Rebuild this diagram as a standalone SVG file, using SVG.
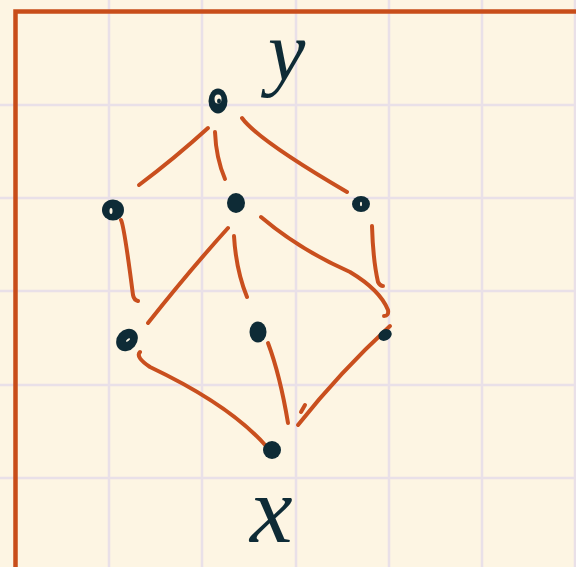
<svg xmlns="http://www.w3.org/2000/svg" width="576" height="567" viewBox="0 0 576 567">
<defs>
<style>
.grid{stroke:#e9e0e8;stroke-width:2.5}
.border{stroke:#c84d1a;stroke-width:4.5;fill:none}
.edge{stroke:#c94f1e;stroke-width:4;fill:none;stroke-linecap:round;stroke-linejoin:round}
.dot{fill:#0e2b36}
.hl{fill:#fdf5e3}
.lbl{font-family:"Liberation Serif",serif;font-style:italic;fill:#0e2b36}
</style>
</defs>
<rect width="576" height="567" fill="#fdf5e3"/>
<g id="grid">
<line class="grid" x1="109" y1="0" x2="109" y2="567"/>
<line class="grid" x1="202" y1="0" x2="202" y2="567"/>
<line class="grid" x1="296" y1="0" x2="296" y2="567"/>
<line class="grid" x1="389" y1="0" x2="389" y2="567"/>
<line class="grid" x1="482" y1="0" x2="482" y2="567"/>
<line class="grid" x1="575" y1="0" x2="575" y2="567"/>
<line class="grid" x1="0" y1="105" x2="576" y2="105"/>
<line class="grid" x1="0" y1="198" x2="576" y2="198"/>
<line class="grid" x1="0" y1="291" x2="576" y2="291"/>
<line class="grid" x1="0" y1="385" x2="576" y2="385"/>
<line class="grid" x1="0" y1="478" x2="576" y2="478"/>
</g>
<path class="border" d="M15.5 567 V11.5 H576"/>
<g id="connectors">
<path class="edge" d="M208 128 Q175 158 139 185"/>
<path class="edge" d="M215 132 Q216 158 225 179"/>
<path class="edge" d="M242 118 Q258 140 347 192"/>
<path class="edge" d="M121 220 Q124 225 133 295 Q134 300 138 301"/>
<path class="edge" d="M228 228 Q190 270 148 323"/>
<path class="edge" d="M234 236 Q236 270 247 297"/>
<path class="edge" d="M261 217 Q300 250 350 272 Q380 290 388 310 Q389 316 384 316"/>
<path class="edge" d="M372 226 Q373 260 378 282 Q380 286 383 286"/>
<path class="edge" d="M140 352 Q135 357 150 367 Q230 405 266 446"/>
<path class="edge" d="M268 343 Q280 375 288 423"/>
<path class="edge" d="M390 326 Q340 372 298 425 M301 412 L305 405"/>
</g>
<g id="node-top"><ellipse class="dot" cx="218" cy="101" rx="9.5" ry="12.5"/><ellipse class="hl" cx="218" cy="99" rx="3.5" ry="4.5"/><ellipse class="dot" cx="219" cy="101" rx="2" ry="2.5"/></g>
<g id="node-l2"><ellipse class="dot" cx="113" cy="210" rx="11" ry="10.5"/><ellipse class="hl" cx="111" cy="211" rx="1.5" ry="3"/></g>
<g id="node-m2"><ellipse class="dot" cx="236" cy="203" rx="9" ry="10"/></g>
<g id="node-r2"><ellipse class="dot" cx="361" cy="204" rx="9" ry="8"/><ellipse class="hl" cx="361" cy="204" rx="1" ry="2.2"/></g>
<g id="node-l3"><ellipse class="dot" cx="127" cy="340" rx="10" ry="12" transform="rotate(40 127 340)"/><ellipse class="hl" cx="128" cy="340" rx="1" ry="2.5" transform="rotate(50 128 340)"/></g>
<g id="node-m3"><ellipse class="dot" cx="258" cy="332" rx="8.5" ry="10.5"/></g>
<g id="node-r3"><ellipse class="dot" cx="385" cy="335" rx="7" ry="5.5" transform="rotate(-30 385 335)"/></g>
<g id="node-bottom"><ellipse class="dot" cx="272" cy="450" rx="9" ry="9"/></g>
<g id="labels">
<text class="lbl" x="268" y="80" font-size="84">y</text>
<text class="lbl" x="250" y="542" font-size="96">x</text>
</g>
</svg>
